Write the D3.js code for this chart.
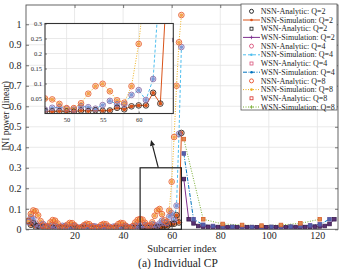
<!DOCTYPE html>
<html><head><meta charset="utf-8">
<script src="https://cdn.jsdelivr.net/npm/d3@7/dist/d3.min.js"></script>
<style>
html,body{margin:0;padding:0;background:#fff;}
svg{display:block;font-family:"Liberation Serif","Times New Roman",serif;}
</style></head><body>
<svg id="chart" width="357" height="269"></svg>
<script>
// ---------------- data ----------------
const nsnSubcarriers = d3.range(1, 65);
const wsnSubcarriersQ2 = d3.range(65, 128, 2);
const wsnSubcarriersQ4 = d3.range(65, 128, 4);
const wsnSubcarriersQ8 = d3.range(65, 128, 8);

const nsnQ2 = [0.040,0.022,0.030,0.013,0.016,0.008,0.011,0.006,0.009,0.006,
  0.008,0.005,0.007,0.005,0.007,0.005,0.006,0.005,0.006,0.004,
  0.006,0.004,0.006,0.004,0.006,0.004,0.006,0.004,0.006,0.004,
  0.006,0.004,0.006,0.004,0.006,0.005,0.006,0.005,0.006,0.005,
  0.007,0.005,0.007,0.006,0.007,0.006,0.008,0.007,0.008,0.007,
  0.006,0.010,0.008,0.011,0.009,0.010,0.019,0.014,0.024,0.027,
  0.027,0.069,0.033,0.470];
const nsnQ4 = [0.035,0.058,0.052,0.028,0.012,0.018,0.026,0.017,0.008,0.013,
  0.021,0.017,0.009,0.010,0.017,0.016,0.009,0.008,0.014,0.016,
  0.010,0.007,0.012,0.015,0.011,0.007,0.010,0.015,0.012,0.007,
  0.009,0.014,0.013,0.008,0.008,0.013,0.014,0.009,0.008,0.013,
  0.016,0.011,0.008,0.013,0.018,0.016,0.013,0.019,0.021,0.016,
  0.013,0.024,0.021,0.016,0.028,0.042,0.031,0.030,0.062,0.078,
  0.045,0.115,0.465,0.889];
const nsnQ8 = [0.042,0.075,0.092,0.088,0.068,0.040,0.018,0.008,0.015,0.033,
  0.045,0.042,0.028,0.012,0.005,0.010,0.022,0.031,0.030,0.020,
  0.008,0.004,0.010,0.021,0.027,0.025,0.015,0.006,0.004,0.011,
  0.021,0.026,0.024,0.014,0.005,0.004,0.013,0.025,0.031,0.029,
  0.018,0.007,0.005,0.016,0.033,0.046,0.050,0.047,0.032,0.018,
  0.018,0.034,0.066,0.091,0.099,0.074,0.044,0.036,0.091,0.232,
  0.450,0.700,0.912,1.045];
const wsnQ2 = [0.245,0.049,0.029,0.016,0.013,0.012,0.011,0.011,0.011,0.010,
  0.010,0.010,0.010,0.010,0.010,0.010,0.010,0.010,0.010,0.010,
  0.010,0.010,0.011,0.011,0.011,0.011,0.012,0.013,0.014,0.016,
  0.026,0.049];
const wsnQ4 = [0.370,0.049,0.022,0.016,0.013,0.012,0.012,0.011,0.011,0.012,
  0.012,0.013,0.016,0.019,0.024,0.049];
const wsnQ8 = [0.440,0.049,0.026,0.021,0.018,0.021,0.029,0.049];

const xTicks = [20,40,60,80,100,120];
const yTicks = [0,0.1,0.2,0.3,0.4,0.5,0.6,0.7,0.8,0.9,1];
const yTickLabels = ["0","0.1","0.2","0.3","0.4","0.5","0.6","0.7","0.8","0.9","1"];
const insetXTicks = [50,55,60];
const insetYTicks = [0.05,0.1,0.15,0.2,0.25,0.3];
const insetYTickLabels = ["0.05","0.1","0.15","0.2","0.25","0.3"];
const legendLabels = ["NSN-Analytic: Q=2","NSN-Simulation: Q=2","WSN-Analytic: Q=2","WSN-Simulation: Q=2",
  "NSN-Analytic: Q=4","NSN-Simulation: Q=4","WSN-Analytic: Q=4","WSN-Simulation: Q=4",
  "NSN-Analytic: Q=8","NSN-Simulation: Q=8","WSN-Analytic: Q=8","WSN-Simulation: Q=8"];

// ---------------- styles ----------------
const series = [
  {kind:"sim", shape:"dot", xs:nsnSubcarriers, ys:nsnQ2, color:"#d95319", fill:"#d95319", dash:null},
  {kind:"sim", shape:"dot", xs:nsnSubcarriers, ys:nsnQ4, color:"#4dbeee", fill:"#7f98d6", dash:"3,2"},
  {kind:"sim", shape:"dot", xs:nsnSubcarriers, ys:nsnQ8, color:"#edb120", fill:"#f4a24c", dash:"1,1.5"},
  {kind:"sim", shape:"plus", xs:wsnSubcarriersQ2, ys:wsnQ2, color:"#7e2f8e", fill:"#7e2f8e", dash:null},
  {kind:"sim", shape:"plus", xs:wsnSubcarriersQ4, ys:wsnQ4, color:"#0072bd", fill:"#0072bd", dash:"4,1.5,1,1.5"},
  {kind:"sim", shape:"plus", xs:wsnSubcarriersQ8, ys:wsnQ8, color:"#77ac30", fill:"#77ac30", dash:"1,1.5"},
  {kind:"ana", shape:"circle", xs:nsnSubcarriers, ys:nsnQ2, color:"#3a2418", fill:"none"},
  {kind:"ana", shape:"circle", xs:nsnSubcarriers, ys:nsnQ4, color:"#8a6ea8", fill:"none"},
  {kind:"ana", shape:"circle", xs:nsnSubcarriers, ys:nsnQ8, color:"#e8602f", fill:"none"},
  {kind:"ana", shape:"square", xs:wsnSubcarriersQ2, ys:wsnQ2, color:"#3b1f4f", fill:"#5a3074"},
  {kind:"ana", shape:"square", xs:wsnSubcarriersQ4, ys:wsnQ4, color:"#5a4f9a", fill:"#4f62ad"},
  {kind:"ana", shape:"square", xs:wsnSubcarriersQ8, ys:wsnQ8, color:"#d9622c", fill:"#e38a4e"}
];
const legendStyles = [
  {t:"m", shape:"circle", color:"#111"},
  {t:"l", color:"#d95319", dash:null, mk:"dot"},
  {t:"m", shape:"square", color:"#111"},
  {t:"l", color:"#7e2f8e", dash:null, mk:"plus"},
  {t:"m", shape:"circle", color:"#d9537a"},
  {t:"l", color:"#4dbeee", dash:"3,2", mk:"dot"},
  {t:"m", shape:"square", color:"#d9537a"},
  {t:"l", color:"#0072bd", dash:"4,1.5,1,1.5", mk:"dot"},
  {t:"m", shape:"circle", color:"#e8502a"},
  {t:"l", color:"#edb120", dash:"1,1.5", mk:"dot"},
  {t:"m", shape:"square", color:"#d9302a"},
  {t:"l", color:"#77ac30", dash:"1,1.5", mk:"plus"}
];

// ---------------- layout ----------------
const svg = d3.select("#chart");
const W = 357, H = 269;
const x = d3.scaleLinear().domain([0,128.5]).range([26,338]);
const y = d3.scaleLinear().domain([0,1.094]).range([229.3,5]);
const xi = d3.scaleLinear().domain([47,64.8]).range([45,173.3]);
const yi = d3.scaleLinear().domain([0,0.3]).range([113.5,23.5]);
const textColor = "#262626";

const defs = svg.append("defs");
defs.append("clipPath").attr("id","mainClip").append("rect")
  .attr("x",x.range()[0]).attr("y",y.range()[1]).attr("width",x.range()[1]-x.range()[0]).attr("height",y.range()[0]-y.range()[1]);
defs.append("clipPath").attr("id","insetClip").append("rect")
  .attr("x",xi.range()[0]).attr("y",yi.range()[1]).attr("width",xi.range()[1]-xi.range()[0]).attr("height",yi.range()[0]-yi.range()[1]);

function drawGrid(g, xs, ys, xt, yt){
  g.selectAll(".gx").data(xt).join("line").attr("x1",d=>xs(d)).attr("x2",d=>xs(d))
    .attr("y1",ys.range()[0]).attr("y2",ys.range()[1]).attr("stroke","#e3e3e3").attr("stroke-width",0.8);
  g.selectAll(".gy").data(yt).join("line").attr("y1",d=>ys(d)).attr("y2",d=>ys(d))
    .attr("x1",xs.range()[0]).attr("x2",xs.range()[1]).attr("stroke","#e3e3e3").attr("stroke-width",0.8);
}
function drawMarker(g, shape, cx, cy, color, fill, size){
  if(shape==="circle"){
    g.append("circle").attr("cx",cx).attr("cy",cy).attr("r",size||2.8).attr("fill",fill||"none").attr("stroke",color).attr("stroke-width",0.9);
  } else if(shape==="square"){
    const s = size||3.6;
    g.append("rect").attr("x",cx-s/2).attr("y",cy-s/2).attr("width",s).attr("height",s).attr("fill",fill||"none").attr("stroke",color).attr("stroke-width",0.8);
  } else if(shape==="dot"){
    g.append("circle").attr("cx",cx).attr("cy",cy).attr("r",size||2).attr("fill",fill).attr("stroke","none");
  } else if(shape==="plus"){
    const s = size||1.6;
    g.append("path").attr("d",`M${cx-s},${cy}H${cx+s}M${cx},${cy-s}V${cy+s}`).attr("stroke",color).attr("stroke-width",0.8);
  }
}
function drawSeries(g, xs, ys){
  series.forEach(s=>{
    const pts = s.xs.map((v,i)=>[v, s.ys[i]]);
    if(s.kind==="sim"){
      g.append("path").datum(pts)
        .attr("d", d3.line().x(d=>xs(d[0])).y(d=>ys(d[1])))
        .attr("fill","none").attr("stroke",s.color).attr("stroke-width",1)
        .attr("stroke-dasharray", s.dash);
    }
  });
  series.forEach(s=>{
    const pts = s.xs.map((v,i)=>[v, s.ys[i]]);
    pts.forEach(p=>{
      if(s.kind==="sim"){
        if(s.shape==="dot") drawMarker(g,"dot",xs(p[0]),ys(p[1]),s.color,s.fill,1.9);
      } else {
        drawMarker(g, s.shape, xs(p[0]), ys(p[1]), s.color, s.fill);
      }
    });
  });
}

// ---------------- main axes ----------------
svg.append("rect").attr("width",W).attr("height",H).attr("fill","#fff");
const gGrid = svg.append("g");
drawGrid(gGrid, x, y, xTicks, yTicks.slice(1));

const gMain = svg.append("g").attr("clip-path","url(#mainClip)");
drawSeries(gMain, x, y);

svg.append("rect").attr("x",x.range()[0]).attr("y",y.range()[1])
  .attr("width",x.range()[1]-x.range()[0]).attr("height",y.range()[0]-y.range()[1])
  .attr("fill","none").attr("stroke","#555").attr("stroke-width",0.9);

const axL = svg.append("g").attr("transform",`translate(${x.range()[0]},0)`)
  .call(d3.axisLeft(y).tickValues(yTicks).tickFormat((d,i)=>yTickLabels[i]).tickSize(-3).tickPadding(4.5));
const axR = svg.append("g").attr("transform",`translate(${x.range()[1]},0)`)
  .call(d3.axisRight(y).tickValues(yTicks).tickFormat("").tickSize(-3));
const axB = svg.append("g").attr("transform",`translate(0,${y.range()[0]})`)
  .call(d3.axisBottom(x).tickValues(xTicks).tickSize(-3).tickPadding(3));
const axT = svg.append("g").attr("transform",`translate(0,${y.range()[1]})`)
  .call(d3.axisTop(x).tickValues(xTicks).tickFormat("").tickSize(-3));
[axL,axR,axB,axT].forEach(a=>{
  a.select(".domain").remove();
  a.selectAll(".tick line").attr("stroke","#555").attr("stroke-width",0.8);
  a.selectAll("text").attr("font-family",'"Liberation Serif","Times New Roman",serif')
    .attr("font-size",10).attr("fill",textColor);
});

// zoom rectangle and arrow
svg.append("rect").attr("x",x(47)).attr("y",y(0.3)).attr("width",x(64)-x(47)).attr("height",y(0)-y(0.3))
  .attr("fill","none").attr("stroke","#222").attr("stroke-width",1.2);
{
  const x0=x(54.5), y0=y(0.3), x1=x(51.5), y1=y(0.436);
  const dx=x1-x0, dy=y1-y0, L=Math.hypot(dx,dy), ux=dx/L, uy=dy/L;
  const hl=6, hw=2.6;
  const bx=x1-ux*hl, by=y1-uy*hl;
  svg.append("line").attr("x1",x0).attr("y1",y0).attr("x2",bx).attr("y2",by).attr("stroke","#222").attr("stroke-width",1.2);
  svg.append("path").attr("d",`M${x1},${y1}L${bx-uy*hw},${by+ux*hw}L${bx+uy*hw},${by-ux*hw}Z`).attr("fill","#222");
}

// ---------------- inset ----------------
svg.append("rect").attr("x",xi.range()[0]).attr("y",yi.range()[1])
  .attr("width",xi.range()[1]-xi.range()[0]).attr("height",yi.range()[0]-yi.range()[1]).attr("fill","#fff");
const gIGrid = svg.append("g");
drawGrid(gIGrid, xi, yi, insetXTicks, insetYTicks.slice(0,-1));
const gInset = svg.append("g").attr("clip-path","url(#insetClip)");
drawSeries(gInset, xi, yi);
const iaxL = svg.append("g").attr("transform",`translate(${xi.range()[0]},0)`)
  .call(d3.axisLeft(yi).tickValues(insetYTicks).tickFormat((d,i)=>insetYTickLabels[i]).tickSize(-2).tickPadding(3));
const iaxB = svg.append("g").attr("transform",`translate(0,${yi.range()[0]})`)
  .call(d3.axisBottom(xi).tickValues(insetXTicks).tickSize(-2).tickPadding(3.5));
[iaxL,iaxB].forEach(a=>{
  a.select(".domain").remove();
  a.selectAll(".tick line").attr("stroke","#444").attr("stroke-width",0.7);
  a.selectAll("text").attr("font-family",'"Liberation Serif","Times New Roman",serif')
    .attr("font-size",6.5).attr("fill",textColor);
});
svg.append("rect").attr("x",xi.range()[0]).attr("y",yi.range()[1])
  .attr("width",xi.range()[1]-xi.range()[0]).attr("height",yi.range()[0]-yi.range()[1])
  .attr("fill","none").attr("stroke","#333").attr("stroke-width",1.1);

// ---------------- legend ----------------
const lg = svg.append("g");
const lx0=241, ly0=4, lw=96, lh=106, rowH=8.7, rowY0=11.3;
lg.append("rect").attr("x",lx0).attr("y",ly0).attr("width",lw).attr("height",lh)
  .attr("fill","#fff").attr("stroke","#555").attr("stroke-width",0.8);
legendLabels.forEach((lab,i)=>{
  const cy = rowY0 + i*rowH, st = legendStyles[i], cx = 251.5;
  if(st.t==="l"){
    lg.append("line").attr("x1",243).attr("x2",260).attr("y1",cy).attr("y2",cy)
      .attr("stroke",st.color).attr("stroke-width",1).attr("stroke-dasharray",st.dash);
    if(st.mk==="dot") drawMarker(lg,"dot",cx,cy,st.color,st.color,1.3);
    else drawMarker(lg,"plus",cx,cy,st.color,st.color,1.8);
  } else {
    drawMarker(lg, st.shape, cx, cy, st.color, "none", st.shape==="circle"?2:3);
  }
  lg.append("text").attr("x",260.8).attr("y",cy).attr("dy","0.33em")
    .attr("font-size",8).attr("fill",textColor).text(lab);
});

// ---------------- labels ----------------
svg.append("text").attr("x",182).attr("y",252).attr("text-anchor","middle")
  .attr("font-size",10.5).attr("fill",textColor).text("Subcarrier index");
svg.append("text").attr("transform","translate(8.5,116) rotate(-90)").attr("text-anchor","middle")
  .attr("font-size",9.5).attr("fill",textColor).text("INI power (linear)");
svg.append("text").attr("x",178).attr("y",267).attr("text-anchor","middle")
  .attr("font-size",11.5).attr("fill",textColor).text("(a) Individual CP");
</script>
</body></html>
